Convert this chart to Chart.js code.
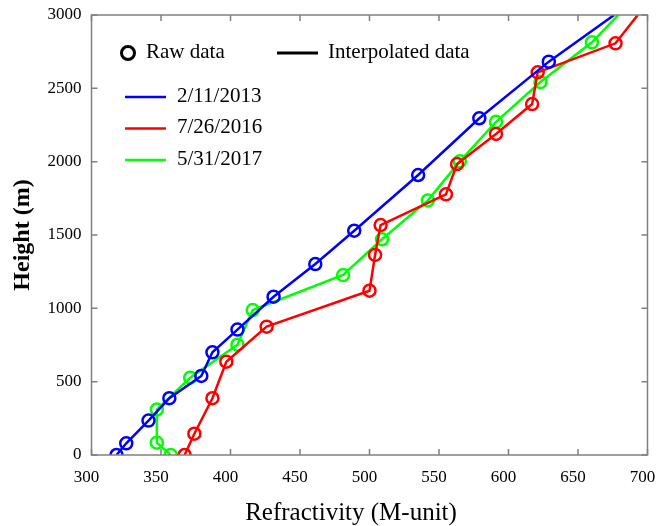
<!doctype html>
<html lang="en">
  <head>
    <meta charset="utf-8">
    <title>Refractivity profiles</title>
    <style>
      * { margin: 0; padding: 0; }
      body { background: #fff; }
      .chartBox { width: 656px; height: 526px; }
    </style>
  </head>
  <body>
    <div class="chartBox">
      <canvas id="myChart" width="656" height="526"></canvas>
    </div>
    <script src="https://cdn.jsdelivr.net/npm/chart.js"></script>
    <script>
    // data: refractivity (M-unit) vs height (m)
    const seriesNames = ['2/11/2013', '7/26/2016', '5/31/2017'];
    const seriesColors = ['#0000ff', '#ff0000', '#00ff00'];

    const blueN = [318, 325, 341, 356, 379, 387, 405, 431, 461, 489, 535, 579, 629, 676];
    const blueH = [0, 80, 235, 387, 539, 700, 855, 1079, 1302, 1529, 1909, 2296, 2682, 3000];

    const redN = [367, 374, 387, 397, 426, 500, 504, 508, 555, 563, 591, 617, 621, 677, 693];
    const redH = [0, 145, 387, 636, 875, 1120, 1364, 1568, 1777, 1984, 2189, 2393, 2609, 2807, 3000];

    const greenN = [357, 347, 347, 371, 405, 416, 481, 509, 542, 565, 591, 623, 660, 679];
    const greenH = [0, 84, 310, 527, 752, 988, 1227, 1471, 1736, 2002, 2272, 2543, 2814, 3000];

    const xTicks = [300, 350, 400, 450, 500, 550, 600, 650, 700];
    const yTicks = [0, 500, 1000, 1500, 2000, 2500, 3000];

    const serif = "'Liberation Serif', 'DejaVu Serif', serif";

    function toPoints(xs, ys) {
      return xs.map(function(x, i) { return { x: x, y: ys[i] }; });
    }
    // last point of each series is where the line leaves the frame, no circle there
    function radii(xs) {
      return xs.map(function(x, i) { return i === xs.length - 1 ? 0 : 6; });
    }

    const data = {
      datasets: [
        { label: seriesNames[0], data: toPoints(blueN, blueH), borderColor: seriesColors[0], pointRadius: radii(blueN) },
        { label: seriesNames[1], data: toPoints(redN, redH), borderColor: seriesColors[1], pointRadius: radii(redN) },
        { label: seriesNames[2], data: toPoints(greenN, greenH), borderColor: seriesColors[2], pointRadius: radii(greenN) }
      ].map(function(d) {
        return Object.assign(d, {
          showLine: true,
          borderWidth: 2.5,
          backgroundColor: 'rgba(0,0,0,0)',
          pointBackgroundColor: 'rgba(0,0,0,0)',
          pointBorderColor: d.borderColor,
          pointBorderWidth: 2.5,
          tension: 0
        });
      })
    };

    // frame, inward ticks, x tick labels, axis titles and the legend
    const decor = {
      id: 'decor',
      afterDraw(chart) {
        const ctx = chart.ctx;
        const a = chart.chartArea;
        const xs = chart.scales.x, ys = chart.scales.y;
        ctx.save();
        ctx.strokeStyle = '#808080';
        ctx.lineWidth = 1.5;
        ctx.strokeRect(a.left, a.top, a.right - a.left, a.bottom - a.top);
        ctx.beginPath();
        xTicks.forEach(function(v) {
          const px = xs.getPixelForValue(v);
          ctx.moveTo(px, a.bottom); ctx.lineTo(px, a.bottom - 6);
          ctx.moveTo(px, a.top); ctx.lineTo(px, a.top + 6);
        });
        yTicks.forEach(function(v) {
          const py = ys.getPixelForValue(v);
          ctx.moveTo(a.left, py); ctx.lineTo(a.left + 6, py);
          ctx.moveTo(a.right, py); ctx.lineTo(a.right - 6, py);
        });
        ctx.stroke();

        // x tick labels sit a little left of their ticks in the original
        ctx.fillStyle = '#000';
        ctx.font = '17px ' + serif;
        ctx.textAlign = 'center';
        ctx.textBaseline = 'middle';
        xTicks.forEach(function(v) {
          ctx.fillText(String(v), xs.getPixelForValue(v) - 5, a.bottom + 23);
        });

        // axis titles
        ctx.font = '25px ' + serif;
        ctx.textBaseline = 'alphabetic';
        ctx.fillText('Refractivity (M-unit)', 351, 520);
        ctx.save();
        ctx.translate(29, (a.top + a.bottom) / 2);
        ctx.rotate(-Math.PI / 2);
        ctx.font = 'bold 24px ' + serif;
        ctx.fillText('Height (m)', 0, 0);
        ctx.restore();

        // legend
        ctx.textAlign = 'left';
        ctx.textBaseline = 'middle';
        ctx.font = '21px ' + serif;
        ctx.strokeStyle = '#000';
        ctx.lineWidth = 3;
        ctx.beginPath();
        ctx.arc(128, 53, 6.5, 0, Math.PI * 2);
        ctx.stroke();
        ctx.fillText('Raw data', 146, 52);
        ctx.beginPath();
        ctx.moveTo(277, 53); ctx.lineTo(318, 53);
        ctx.stroke();
        ctx.fillText('Interpolated data', 328, 52);
        chart.data.datasets.forEach(function(d, i) {
          const y = 97 + i * 31.5;
          ctx.strokeStyle = d.borderColor;
          ctx.lineWidth = 2.5;
          ctx.beginPath();
          ctx.moveTo(125, y); ctx.lineTo(166, y);
          ctx.stroke();
          ctx.fillText(d.label, 177, y - 1);
        });
        ctx.restore();
      }
    };

    const config = {
      type: 'scatter',
      data,
      options: {
        responsive: false,
        animation: false,
        layout: { autoPadding: false, padding: { top: 15, right: 8.5, left: 0, bottom: 0 } },
        plugins: { legend: { display: false }, tooltip: { enabled: false } },
        scales: {
          x: {
            type: 'linear',
            min: 300, max: 700,
            afterBuildTicks: function(s) { s.ticks = xTicks.map(function(v) { return { value: v }; }); },
            afterFit: function(s) { s.height = 71; s.paddingLeft = 0; s.paddingRight = 0; },
            grid: { display: false, drawTicks: false },
            border: { display: false },
            ticks: { display: false }
          },
          y: {
            type: 'linear',
            min: 0, max: 3000,
            afterBuildTicks: function(s) { s.ticks = yTicks.map(function(v) { return { value: v }; }); },
            afterFit: function(s) { s.width = 91.5; s.paddingTop = 0; s.paddingBottom = 0; },
            grid: { display: false, drawTicks: false },
            border: { display: false },
            ticks: {
              color: '#000', font: { family: serif, size: 17 }, padding: 10,
              callback: function(v) { return String(v); }
            }
          }
        }
      },
      plugins: [decor]
    };

    const myChart = new Chart(document.getElementById('myChart'), config);
    </script>
  </body>
</html>
